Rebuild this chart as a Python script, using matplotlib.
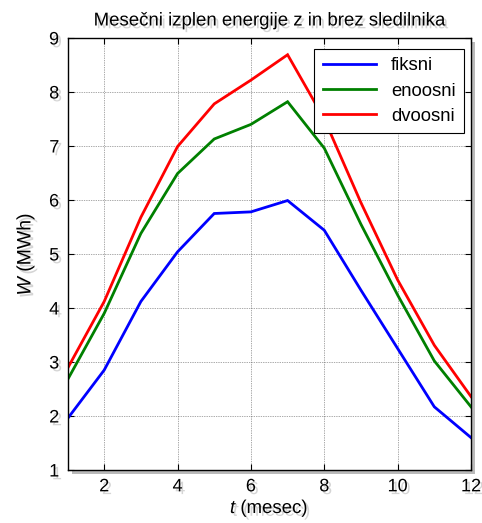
import matplotlib
matplotlib.use("Agg")
import matplotlib.pyplot as plt
import matplotlib.patheffects as pe

months = list(range(1, 13))
fiksni = [1.95, 2.85, 4.12, 5.04, 5.75, 5.78, 5.99, 5.44, 4.33, 3.25, 2.17, 1.60]
enoosni = [2.67, 3.90, 5.38, 6.49, 7.13, 7.40, 7.82, 6.96, 5.55, 4.24, 3.02, 2.17]
dvoosni = [2.88, 4.12, 5.68, 6.99, 7.78, 8.22, 8.69, 7.50, 5.95, 4.52, 3.31, 2.36]
series_names = ["fiksni", "enoosni", "dvoosni"]
colors = ["#0000ff", "#008000", "#ff0000"]
xticks = [2, 4, 6, 8, 10, 12]
yticks = [1, 2, 3, 4, 5, 6, 7, 8, 9]

plt.rcParams['font.family'] = ['Liberation Sans', 'DejaVu Sans']
plt.rcParams['mathtext.fontset'] = 'custom'
plt.rcParams['mathtext.it'] = 'Liberation Sans:italic'
plt.rcParams['mathtext.rm'] = 'Liberation Sans'

shadow = [pe.withSimplePatchShadow(offset=(2, -2), shadow_rgbFace='#888888', alpha=0.35)]

fig = plt.figure(figsize=(4.82, 5.23), dpi=100)
ax = fig.add_axes([67.5/482, 1-470/523, (471-67.5)/482, (470-38)/523])
ax.patch.set_path_effects([pe.withSimplePatchShadow(offset=(3, -3), shadow_rgbFace='#777777', alpha=0.5)])

for vals, name, c in zip([fiksni, enoosni, dvoosni], series_names, colors):
    ax.plot(months, vals, color=c, lw=2.0, label=name, solid_joinstyle='miter')

ax.set_xlim(1, 12)
ax.set_ylim(1, 9)
ax.set_xticks(xticks)
ax.set_yticks(yticks)
ax.grid(True, color='#555555', linestyle=(0, (1, 1.5)), lw=0.5)
ax.tick_params(direction='in', length=4, width=0.8, top=True, right=True, labelsize=13, pad=6)
for lab in ax.get_xticklabels() + ax.get_yticklabels():
    lab.set_path_effects(shadow)
for s in ax.spines.values():
    s.set_linewidth(1.0)

t = ax.set_title("Mesečni izplen energije z in brez sledilnika", fontsize=13.4, pad=9)
t.set_path_effects(shadow)
xl = ax.set_xlabel(r"$t$ (mesec)", fontsize=13.4, labelpad=2)
xl.set_path_effects(shadow)
yl = ax.set_ylabel(r"$W$ (MWh)", fontsize=14, labelpad=9)
yl.set_path_effects(shadow)

leg = ax.legend(loc='upper right', bbox_to_anchor=(464/482, 1-49/523), bbox_transform=fig.transFigure,
                fancybox=False, framealpha=1, edgecolor='black', fontsize=13.3,
                handlelength=2.9, borderpad=0.45, labelspacing=0.45, handletextpad=0.8, borderaxespad=0)
leg.get_frame().set_linewidth(0.8)

fig.savefig("out.png", dpi=100)
